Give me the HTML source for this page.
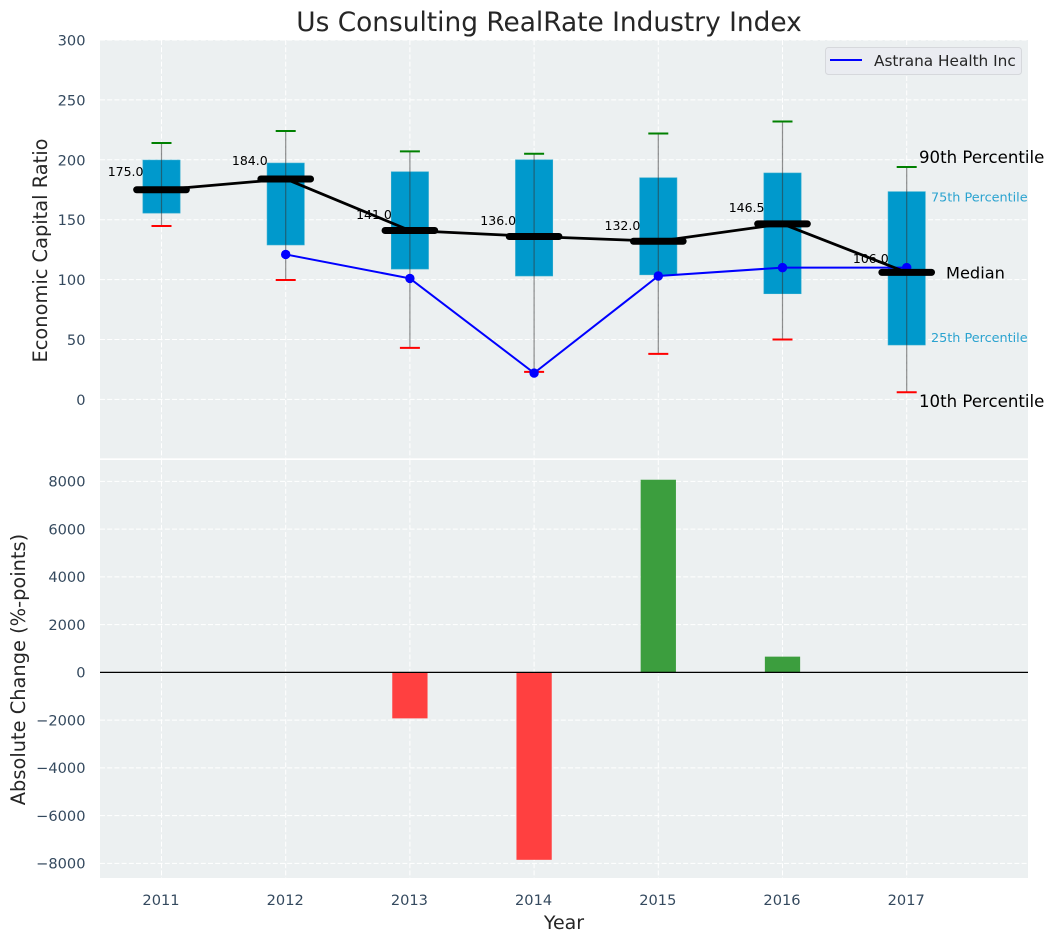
<!DOCTYPE html>
<html lang="en">
<head>
<meta charset="utf-8">
<title>Us Consulting RealRate Industry Index</title>
<style>
html,body{margin:0;padding:0;background:#fff;width:1054px;height:942px;overflow:hidden}
svg{display:block}
text{font-family:"DejaVu Sans","Liberation Sans",sans-serif}
</style>
</head>
<body>
<svg id="chart" width="1054" height="942" viewBox="0 0 1054 942" xmlns="http://www.w3.org/2000/svg">
  <rect x="100" y="40" width="928" height="418.3" fill="#ecf0f1"/>
  <rect x="100" y="460" width="928" height="418" fill="#ecf0f1"/>
  <g id="grid"></g>
  <g id="boxes"></g>
  <g id="bars"></g>
  <line id="zero" x1="100" x2="1028" stroke="#000" stroke-width="1.2"/>
  <g id="ticks"></g>
  <g id="labels"></g>
  <g id="company"></g>
  <g id="medians"></g>
  <g id="notes"></g>
  <text x="549" y="31" font-size="26.4" fill="#262626" text-anchor="middle">Us Consulting RealRate Industry Index</text>
  <text transform="translate(47,250.5) rotate(-90)" font-size="19.4" fill="#262626" text-anchor="middle">Economic Capital Ratio</text>
  <text transform="translate(25,669.5) rotate(-90)" font-size="19.4" fill="#262626" text-anchor="middle">Absolute Change (%-points)</text>
  <text x="564" y="929" font-size="19" fill="#262626" text-anchor="middle">Year</text>
  <g>
    <rect x="825.5" y="47.5" width="196" height="27" rx="3" fill="#eaecf1" stroke="#d6d8dc" stroke-width="1"/>
    <line x1="830" x2="862" y1="60" y2="60" stroke="#0000ff" stroke-width="2"/>
    <text x="874" y="66" font-size="15.3" fill="#262626">Astrana Health Inc</text>
  </g>
</svg>
<script>
const years = [2011, 2012, 2013, 2014, 2015, 2016, 2017];
const p90 = [214, 224, 207, 205, 222, 232, 194];
const p75 = [199.8, 197.3, 190, 200, 185, 189, 173.4];
const medianValues = [175, 184, 141, 136, 132, 146.5, 106];
const p25 = [155.5, 128.9, 108.8, 103, 104, 88.2, 45.4];
const p10 = [144.7, 99.7, 43, 23, 38, 50, 6];
const companyValues = [null, 121, 101, 22, 103, 110, 110];
const changeValues = [null, null, -1925, -7850, 8070, 660, null];
const topTicks = [0, 50, 100, 150, 200, 250, 300];
const bottomTicks = [-8000, -6000, -4000, -2000, 0, 2000, 4000, 6000, 8000];

const NS = 'http://www.w3.org/2000/svg';
const xScale = v => 161.5 + (v - 2011) * 124.2;
const yTop = v => 399.4 - v * 1.198;
const yBottom = v => 672.4 - v * 0.023875;
const boxHalf = 0.15 * 124.2;
const barHalf = 0.142 * 124.2;
const medianHalf = 0.2 * 124.2;
const capHalf = 10;

function make(tag, parent, attrs, text) {
  const el = document.createElementNS(NS, tag);
  for (const k in attrs) el.setAttribute(k, attrs[k]);
  if (text !== undefined) el.textContent = text;
  document.getElementById(parent).appendChild(el);
  return el;
}

document.getElementById('zero').setAttribute('y1', yBottom(0));
document.getElementById('zero').setAttribute('y2', yBottom(0));

const gridStyle = { stroke: '#ffffff', 'stroke-width': 1, 'stroke-dasharray': '5 2.2' };

topTicks.forEach(t => {
  const g = make('line', 'grid', Object.assign({ x1: 100, x2: 1028, y1: yTop(t), y2: yTop(t) }, gridStyle));
  
  
  const l = make('text', 'ticks', { x: 85.5, y: yTop(t) + 5.5, 'font-size': 14.6, fill: '#34495e', 'text-anchor': 'end' }, String(t));
  
  
});

bottomTicks.forEach(t => {
  const g = make('line', 'grid', Object.assign({ x1: 100, x2: 1028, y1: yBottom(t), y2: yBottom(t) }, gridStyle));
  
  
  const l = make('text', 'ticks', { x: 85.5, y: yBottom(t) + 5.2, 'font-size': 14.6, fill: '#34495e', 'text-anchor': 'end' }, String(t).replace('-', '\u2212'));
  
  
});

years.forEach((yr, i) => {
  const x = xScale(yr);

  const g1 = make('line', 'grid', Object.assign({ x1: x, x2: x, y1: 40, y2: 458.3 }, gridStyle));
  
  
  const g2 = make('line', 'grid', Object.assign({ x1: x, x2: x, y1: 460, y2: 878 }, gridStyle));
  
  

  const tick = make('text', 'ticks', { x: x - 0.5, y: 905, 'font-size': 14.6, fill: '#34495e', 'text-anchor': 'middle' }, String(yr));
  
  

  const box = make('rect', 'boxes', { x: x - boxHalf, y: yTop(p75[i]), width: boxHalf * 2, height: yTop(p25[i]) - yTop(p75[i]), fill: '#0099cc', stroke: '#33adcf', 'stroke-width': 0.6 });
  
  

  const whisker = make('line', 'boxes', { x1: x, x2: x, y1: yTop(p90[i]), y2: yTop(p10[i]), stroke: '#333333', 'stroke-opacity': 0.55, 'stroke-width': 1.2 });
  
  

  const capHigh = make('line', 'boxes', { x1: x - capHalf, x2: x + capHalf, y1: yTop(p90[i]), y2: yTop(p90[i]), stroke: '#008000', 'stroke-width': 2 });
  
  

  const capLow = make('line', 'boxes', { x1: x - capHalf, x2: x + capHalf, y1: yTop(p10[i]), y2: yTop(p10[i]), stroke: '#ff0000', 'stroke-width': 2 });
  
  

  if (changeValues[i] !== null) {
    const v = changeValues[i];
    const top = Math.min(yBottom(v), yBottom(0));
    const bar = make('rect', 'bars', { x: x - barHalf, y: top, width: barHalf * 2, height: Math.abs(yBottom(v) - yBottom(0)), fill: v < 0 ? '#ff4040' : '#3c9e3e' });
    
    
  }

  const label = make('text', 'labels', { x: x - 18, y: yTop(medianValues[i] * 1.05 + 6) + 4, 'font-size': 12.5, fill: '#000', 'text-anchor': 'end' }, medianValues[i].toFixed(1));
  
  
});

const companyPts = years.map((yr, i) => companyValues[i] === null ? null : [xScale(yr), yTop(companyValues[i])]).filter(Boolean);
const companyLine = make('polyline', 'company', { points: companyPts.map(p => p.join(',')).join(' '), fill: 'none', stroke: '#0000ff', 'stroke-width': 2 });


years.forEach((yr, i) => {
  if (companyValues[i] === null) return;
  const dot = make('circle', 'company', { cx: xScale(yr), cy: yTop(companyValues[i]), r: 4.7, fill: '#0000ff' });
  
  
});

const medianLine = make('polyline', 'medians', { points: years.map((yr, i) => xScale(yr) + ',' + yTop(medianValues[i])).join(' '), fill: 'none', stroke: '#000', 'stroke-width': 2.8 });


years.forEach((yr, i) => {
  const x = xScale(yr);
  const y = yTop(medianValues[i]);
  const m = make('line', 'medians', { x1: x - medianHalf, x2: x + medianHalf, y1: y, y2: y, stroke: '#000', 'stroke-width': 7, 'stroke-linecap': 'round' });
  
  
});

const last = years.length - 1;
const lastX = xScale(years[last]);
const n90 = make('text', 'notes', { x: lastX + 12.3, y: yTop(p90[last]) - 3.8, 'font-size': 16.6, fill: '#000' }, '90th Percentile');


const n75 = make('text', 'notes', { x: lastX + 24.3, y: yTop(p75[last]) + 9.8, 'font-size': 12.8, fill: '#2ba3d0' }, '75th Percentile');


const nMed = make('text', 'notes', { x: lastX + 39.3, y: yTop(medianValues[last]) + 6, 'font-size': 16.2, fill: '#000' }, 'Median');


const n25 = make('text', 'notes', { x: lastX + 24.3, y: yTop(p25[last]) - 3, 'font-size': 12.8, fill: '#2ba3d0' }, '25th Percentile');


const n10 = make('text', 'notes', { x: lastX + 12.3, y: yTop(p10[last]) + 14.6, 'font-size': 16.6, fill: '#000' }, '10th Percentile');


</script>
</body>
</html>
